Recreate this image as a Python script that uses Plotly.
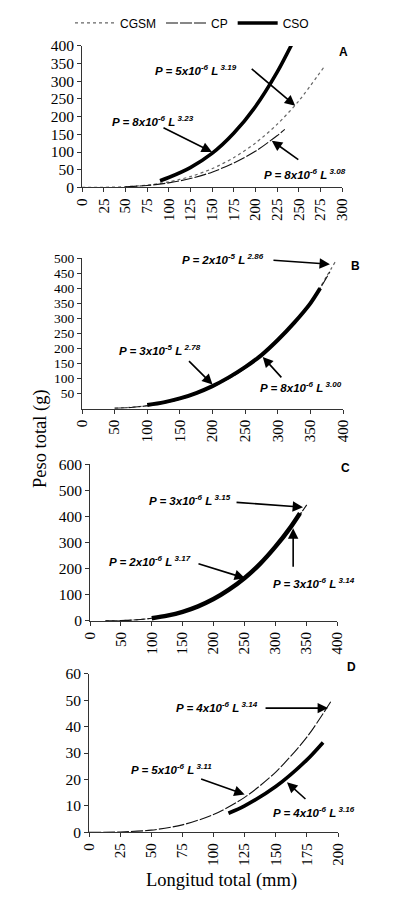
import plotly.graph_objects as go
from plotly.subplots import make_subplots

# ---------------- data ----------------
A_CGSM_L = [0, 25, 50, 75, 100, 125, 150, 175, 200, 225, 250, 280]
A_CGSM_P = [0, 0.3, 2, 6.6, 15.6, 30.5, 52.7, 84, 125, 178, 244, 343]
A_CP_L = [50, 75, 100, 125, 150, 175, 200, 225, 234]
A_CP_P = [1.6, 5.4, 12.8, 25, 43, 69, 102, 146, 164]
A_CSO_L = [90, 100, 125, 150, 175, 200, 225, 242]
A_CSO_P = [19, 28, 56, 96, 153, 228, 325, 404]

B_CGSM_L = [50, 75, 100, 125, 150, 175, 200, 225, 250, 275, 300, 325, 350, 375, 390]
B_CGSM_P = [1.5, 4.5, 10, 19, 32, 50, 73, 102, 137, 179, 228, 285, 352, 440, 495]
B_CP_L = [50, 75, 100, 125, 150, 175, 200, 225, 250, 275, 300, 325, 350, 380]
B_CP_P = [1.2, 4, 9.5, 18, 31, 49, 72, 100, 134, 176, 225, 282, 348, 455]
B_CSO_L = [100, 125, 150, 175, 200, 225, 250, 275, 300, 325, 350, 365]
B_CSO_P = [12, 21, 34, 52, 75, 104, 138, 178, 228, 285, 350, 400]

C_CGSM_L = [25, 50, 75, 100, 125, 150, 175, 200, 225, 250, 275, 300, 325, 345]
C_CGSM_P = [0.2, 1.3, 4.3, 10, 20, 35, 55, 82, 117, 161, 214, 278, 354, 425]
C_CP_L = [25, 50, 75, 100, 125, 150, 175, 200, 225, 250, 275, 300, 325, 351]
C_CP_P = [0.2, 1.3, 4.4, 10.4, 20, 35, 56, 83, 118, 163, 216, 281, 358, 445]
C_CSO_L = [100, 125, 150, 175, 200, 225, 250, 275, 300, 325, 340]
C_CSO_P = [10.5, 20.5, 35, 56, 84, 120, 164, 218, 284, 360, 413]

D_CP_L = [0, 25, 50, 75, 100, 125, 150, 175, 195]
D_CP_P = [0, 0.1, 0.8, 2.8, 6.7, 13.2, 22.8, 36, 50]
D_CSO_L = [112, 125, 150, 175, 188]
D_CSO_P = [7.2, 10, 17.3, 27.4, 34]

SERIES_NAMES = ["CGSM", "CP", "CSO"]
PANEL_LABELS = ["A", "B", "C", "D"]

A_X_TICKS = [0, 25, 50, 75, 100, 125, 150, 175, 200, 225, 250, 275, 300]
A_Y_TICKS = [0, 50, 100, 150, 200, 250, 300, 350, 400]
B_X_TICKS = [0, 50, 100, 150, 200, 250, 300, 350, 400]
B_Y_TICKS = [50, 100, 150, 200, 250, 300, 350, 400, 450, 500]
C_X_TICKS = [0, 50, 100, 150, 200, 250, 300, 350, 400]
C_Y_TICKS = [0, 100, 200, 300, 400, 500, 600]
D_X_TICKS = [0, 25, 50, 75, 100, 125, 150, 175, 200]
D_Y_TICKS = [0, 10, 20, 30, 40, 50, 60]

# ---------------- figure ----------------
# the page body has an 8px margin; size the figure so it fits the 397x913 window
OFF = 8
W, H = 381, 897
fig = make_subplots(rows=4, cols=1)

STY = {
    "CGSM": dict(color="#666666", width=1.2, dash="dot"),
    "CP": dict(color="#111111", width=1.1, dash="12px,2px"),
    "CSO": dict(color="#000000", width=3.6, dash="solid"),
}

def add(row, name, L, P, show=False, width=None):
    st = dict(STY[name])
    if width is not None:
        st["width"] = width
    fig.add_trace(go.Scatter(x=L, y=P, mode="lines", name=name, showlegend=show,
                             line=dict(shape="spline", smoothing=0.8, **st)),
                  row=row, col=1)

add(1, "CGSM", A_CGSM_L, A_CGSM_P, show=True)
add(1, "CP", A_CP_L, A_CP_P, show=True)
add(1, "CSO", A_CSO_L, A_CSO_P, show=True)
add(2, "CGSM", B_CGSM_L, B_CGSM_P)
add(2, "CP", B_CP_L, B_CP_P)
add(2, "CSO", B_CSO_L, B_CSO_P, width=4)
add(3, "CGSM", C_CGSM_L, C_CGSM_P)
add(3, "CP", C_CP_L, C_CP_P)
add(3, "CSO", C_CSO_L, C_CSO_P, width=4.5)
add(4, "CP", D_CP_L, D_CP_P)
add(4, "CSO", D_CSO_L, D_CSO_P)

def px_x(p):
    return (p - OFF) / W

def px_y(p):
    return 1 - (p - OFF) / H

# domains in screen pixel coordinates (left, right, bottom, top)
doms = [(82, 342, 185, 43), (82, 343, 407, 256), (90, 337, 620, 463), (89, 338, 832, 673)]
xr = [[0, 300], [0, 400], [0, 400], [0, 200]]
yr = [[0, 400], [0, 500], [0, 600], [0, 60]]
xt = [A_X_TICKS, B_X_TICKS, C_X_TICKS, D_X_TICKS]
yt = [A_Y_TICKS, B_Y_TICKS, C_Y_TICKS, D_Y_TICKS]
ytick_sizes = [15.5, 13.5, 15.5, 15.5]

SERIF = "Liberation Serif"
for i in range(4):
    l, r, b, t = doms[i]
    fig.update_xaxes(domain=[px_x(l), px_x(r)], range=xr[i], tickvals=xt[i],
                     ticktext=[str(v) for v in xt[i]], tickangle=-90,
                     showline=True, linecolor="#333", linewidth=1,
                     ticks="outside", ticklen=4, tickcolor="#333",
                     showgrid=False, zeroline=False,
                     tickfont=dict(family=SERIF, size=15, color="black"),
                     automargin=False, row=i + 1, col=1)
    fig.update_yaxes(domain=[px_y(b), px_y(t)], range=yr[i], tickvals=yt[i],
                     ticktext=[str(v) for v in yt[i]],
                     showline=True, linecolor="#333", linewidth=1,
                     ticks="outside", ticklen=4, tickcolor="#333",
                     showgrid=False, zeroline=False,
                     tickfont=dict(family=SERIF, size=ytick_sizes[i], color="black"),
                     automargin=False, row=i + 1, col=1)

ann = []
ffont = dict(family="Arial, Liberation Sans, sans-serif", size=11.5, color="black")

def formula(a, b, c):
    return "<b><i>P = %sx10<sup>%s</sup> L<sup> %s</sup></i></b>" % (a, b, c)

# text labels (screen pixels)
texts = [
    (196, 67, formula("5", "-6", "3.19")),
    (153, 118, formula("8", "-6", "3.23")),
    (305, 172, formula("8", "-6", "3.08")),
    (223, 257, formula("2", "-5", "2.86")),
    (160, 348, formula("3", "-5", "2.78")),
    (301, 385, formula("8", "-6", "3.00")),
    (190, 499, formula("3", "-6", "3.15")),
    (150, 560, formula("2", "-6", "3.17")),
    (314, 582, formula("3", "-6", "3.14")),
    (217, 706, formula("4", "-6", "3.14")),
    (171, 769, formula("5", "-6", "3.11")),
    (314, 812, formula("4", "-6", "3.16")),
]
for x, y, t in texts:
    ann.append(dict(x=px_x(x), y=px_y(y), xref="paper", yref="paper", text=t,
                    showarrow=False, font=ffont, xanchor="center", yanchor="middle"))

# arrows: (axis suffix, head L, head P, ax px, ay px)
arrows = [
    ("", 246, 231, -45, -38),
    ("", 150, 100, -50, -25),
    ("", 219, 132, 28, 20),
    ("2", 380, 480, -58, -4),
    ("2", 200, 80, -25, -25),
    ("2", 277, 172, 20, 22),
    ("3", 345, 436, -68, -5),
    ("3", 251, 164, -48, -15),
    ("3", 329, 355, 0, 40),
    ("4", 192, 47, -64, 0),
    ("4", 125, 14.3, -45, -16),
    ("4", 159, 18.9, 20, 18),
]
for s, hx, hy, ax, ay in arrows:
    ann.append(dict(x=hx, y=hy, xref="x" + s, yref="y" + s, text="", showarrow=True,
                    ax=ax, ay=ay, arrowhead=2, arrowsize=1.3, arrowwidth=1.6,
                    arrowcolor="black"))

# panel letters
letters = [(350, 40), (362, 255), (352, 467), (358, 675)]
for (x, y), lab in zip(letters, PANEL_LABELS):
    ann.append(dict(x=px_x(x), y=px_y(y), xref="paper", yref="paper",
                    text="<b>%s</b>" % lab, showarrow=False,
                    font=dict(family="Arial, Liberation Sans, sans-serif", size=12, color="black")))

# axis titles
tfont = dict(family=SERIF, size=18.5, color="black")
ann.append(dict(x=px_x(28), y=px_y(437), xref="paper", yref="paper", text="Peso total (g)",
                textangle=-90, showarrow=False, font=tfont))
ann.append(dict(x=px_x(221), y=px_y(893), xref="paper", yref="paper", text="Longitud total (mm)",
                showarrow=False, font=tfont))

fig.update_layout(
    width=W, height=H, autosize=False,
    margin=dict(l=0, r=0, t=0, b=0),
    paper_bgcolor="white", plot_bgcolor="white",
    annotations=ann,
    legend=dict(orientation="h", x=px_x(70), y=px_y(20), xanchor="left", yanchor="middle",
                font=dict(family="Arial, Liberation Sans, sans-serif", size=12, color="black"),
                itemwidth=40, tracegroupgap=0, bgcolor="rgba(0,0,0,0)"),
)

fig.write_html("out.html")
